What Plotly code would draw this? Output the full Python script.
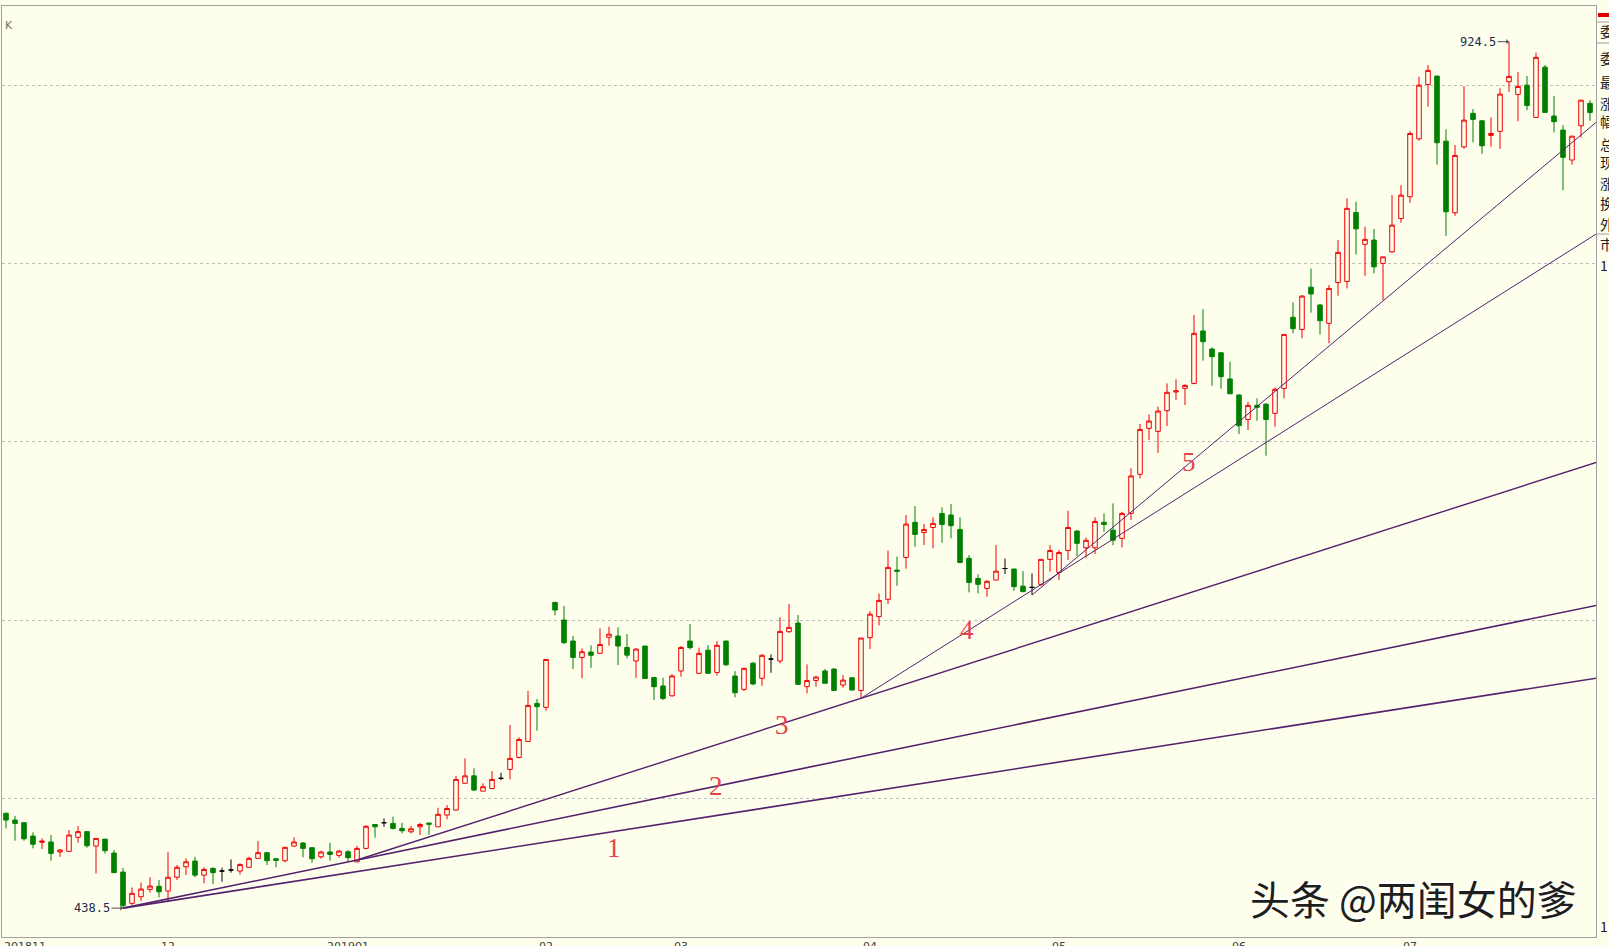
import plotly.graph_objects as go

# ---------------- data ----------------
month_labels = ["201811", "12", "201901", "02", "03", "04", "05", "06", "07"]
month_index = [0, 18, 38, 60, 75, 96, 117, 137, 156]

opens = [491.7, 487.9, 486.4, 478.9, 475.4, 475.6, 470.0, 470.3, 478.2, 481.4,
         473.3, 477.2, 469.4, 458.7, 441.2, 444.9, 449.0, 450.7, 448.1, 455.8,
         461.7, 464.9, 457.0, 460.8, 459.3, 459.9, 459.3, 461.4, 466.4, 469.6,
         466.2, 465.1, 473.3, 475.0, 472.4, 467.3, 470.0, 468.1, 470.1, 464.5,
         472.0, 485.4, 486.4, 486.0, 483.2, 481.3, 484.1, 486.2, 484.1, 490.7,
         493.5, 508.5, 512.7, 504.1, 505.6, 511.3, 516.3, 523.0, 532.0, 553.3,
         551.1, 610.0, 600.1, 588.3, 579.1, 582.1, 581.4, 590.4, 591.1, 584.7,
         577.1, 585.5, 567.9, 563.1, 557.6, 571.5, 588.3, 570.2, 583.2, 570.7,
         588.3, 568.7, 561.2, 575.9, 567.4, 578.2, 577.1, 593.5, 598.4, 562.7,
         566.2, 571.5, 572.6, 563.6, 567.7, 560.6, 590.2, 602.0, 611.7, 628.1,
         635.2, 654.9, 649.2, 652.0, 659.9, 659.0, 650.9, 634.7, 623.4, 617.8,
         622.5, 629.0, 628.7, 619.1, 618.4, 620.1, 634.1, 626.8, 639.1, 650.0,
         640.6, 640.6, 654.9, 650.5, 645.9, 659.9, 681.8, 707.6, 705.9, 717.5,
         728.0, 730.0, 732.8, 762.2, 752.1, 750.0, 735.3, 726.3, 712.6, 720.5,
         721.2, 716.0, 730.0, 769.9, 763.1, 786.8, 776.8, 766.5, 789.4, 790.0,
         828.7, 810.8, 813.2, 800.1, 806.6, 825.3, 837.5, 870.0, 900.5, 905.2,
         868.7, 828.5, 865.5, 884.3, 880.1, 871.9, 874.2, 902.0, 894.9, 900.1,
         882.0, 910.2, 882.8, 874.9, 858.1, 877.3, 889.9]
highs = [492.0, 490.2, 486.8, 481.0, 477.6, 479.5, 471.6, 482.3, 484.5, 481.7,
         477.6, 477.2, 471.1, 461.0, 450.1, 452.9, 455.8, 454.2, 470.1, 462.7,
         466.4, 467.3, 461.4, 461.4, 461.2, 465.8, 463.6, 467.3, 476.1, 469.6,
         466.2, 472.9, 478.2, 475.6, 472.4, 470.7, 475.2, 471.1, 471.1, 473.5,
         485.0, 485.4, 488.8, 489.8, 486.4, 484.5, 486.4, 486.4, 494.8, 496.3,
         512.7, 522.5, 516.9, 508.5, 515.4, 514.4, 541.2, 534.3, 560.3, 555.8,
         578.0, 610.0, 607.9, 591.1, 584.2, 585.9, 595.4, 596.3, 596.0, 592.2,
         584.2, 585.5, 567.9, 567.7, 569.8, 585.5, 597.8, 584.6, 586.0, 588.3,
         588.5, 571.5, 573.3, 576.5, 581.0, 580.8, 601.6, 609.0, 602.9, 575.2,
         568.7, 572.6, 573.0, 569.2, 568.1, 590.0, 605.1, 615.0, 639.0, 635.6,
         659.0, 664.0, 653.9, 657.7, 663.3, 665.1, 657.7, 636.5, 625.7, 622.5,
         642.1, 634.6, 628.7, 627.5, 626.2, 634.1, 642.1, 639.3, 661.4, 650.5,
         646.4, 657.7, 659.9, 665.5, 660.8, 685.2, 710.0, 715.4, 719.8, 732.8,
         735.1, 732.3, 771.2, 774.5, 753.0, 750.4, 745.0, 726.7, 722.5, 724.4,
         721.6, 730.6, 760.3, 778.3, 782.4, 797.3, 777.3, 788.0, 813.2, 836.6,
         834.7, 820.7, 819.4, 803.8, 838.4, 844.0, 874.3, 904.8, 911.4, 905.2,
         875.3, 866.5, 899.6, 886.7, 880.5, 882.0, 898.3, 924.5, 907.4, 905.2,
         918.3, 911.4, 894.0, 877.7, 871.5, 891.7, 891.7]
lows = [483.2, 476.3, 476.3, 472.0, 471.6, 465.1, 467.3, 470.3, 475.2, 472.4,
        458.0, 469.2, 458.4, 438.5, 440.2, 442.6, 447.2, 444.5, 442.1, 454.2,
        457.0, 455.8, 452.4, 452.0, 453.3, 458.4, 457.4, 461.4, 466.4, 462.7,
        461.4, 464.2, 472.9, 467.0, 464.0, 466.2, 465.1, 466.8, 464.9, 464.2,
        471.5, 478.0, 484.1, 482.6, 480.4, 480.4, 479.5, 479.5, 484.1, 488.3,
        493.1, 508.5, 504.3, 504.1, 505.6, 510.3, 510.7, 522.5, 532.0, 538.0,
        549.2, 602.7, 586.6, 572.6, 567.4, 573.3, 581.4, 585.7, 574.8, 578.6,
        567.7, 567.3, 555.2, 555.2, 557.1, 568.3, 583.6, 570.2, 570.2, 568.9,
        574.3, 556.7, 560.2, 563.6, 563.2, 570.5, 575.8, 593.0, 564.0, 558.9,
        562.7, 564.6, 560.6, 562.1, 560.8, 556.1, 583.8, 597.1, 609.0, 619.3,
        628.9, 641.2, 642.1, 640.3, 643.4, 645.9, 631.9, 615.6, 615.0, 613.1,
        622.5, 625.9, 616.5, 616.0, 614.1, 619.1, 627.2, 622.5, 633.7, 636.0,
        635.2, 637.1, 649.6, 642.1, 640.8, 656.2, 679.5, 701.1, 693.9, 708.9,
        723.5, 720.7, 732.3, 745.6, 731.5, 729.8, 727.0, 704.4, 706.7, 711.9,
        692.3, 708.5, 724.4, 760.9, 758.1, 772.5, 760.3, 755.3, 782.0, 786.1,
        805.1, 793.2, 794.5, 779.5, 806.1, 822.9, 834.1, 868.9, 888.0, 855.5,
        815.6, 826.8, 864.4, 868.0, 861.6, 865.5, 864.4, 896.4, 879.8, 886.1,
        882.0, 884.8, 873.6, 841.2, 855.5, 870.8, 880.1]
closes = [487.9, 486.0, 477.4, 474.3, 476.1, 469.2, 471.1, 479.5, 481.4, 473.5,
          477.6, 470.7, 458.4, 440.0, 446.8, 449.2, 450.9, 447.7, 455.8, 461.4,
          464.5, 457.0, 460.2, 458.4, 459.3, 459.9, 463.0, 466.4, 469.6, 465.1,
          465.3, 472.6, 475.6, 472.0, 466.2, 470.0, 468.6, 470.5, 466.8, 472.0,
          484.4, 484.1, 486.4, 483.2, 481.9, 483.0, 485.4, 485.6, 491.1, 494.4,
          510.7, 512.7, 504.7, 506.6, 510.7, 511.3, 522.5, 533.1, 552.2, 551.5,
          578.0, 605.7, 587.4, 579.1, 582.3, 580.3, 586.4, 592.2, 585.5, 580.4,
          583.8, 567.3, 562.7, 556.1, 568.7, 584.7, 584.6, 581.4, 570.2, 585.9,
          575.0, 559.3, 573.0, 564.2, 580.3, 578.2, 593.7, 596.0, 564.0, 566.2,
          568.1, 564.6, 560.6, 566.4, 560.8, 590.0, 603.4, 611.1, 629.6, 627.4,
          653.9, 648.1, 650.9, 654.3, 653.7, 653.0, 632.4, 621.2, 620.1, 621.8,
          627.5, 629.0, 618.8, 616.0, 618.4, 634.1, 639.1, 638.0, 652.0, 643.1,
          644.8, 655.4, 653.7, 644.9, 659.9, 680.9, 707.0, 711.7, 717.3, 727.8,
          728.7, 731.7, 760.9, 756.2, 747.8, 736.6, 727.0, 709.1, 720.5, 719.4,
          712.6, 729.5, 760.3, 763.5, 781.8, 783.0, 768.0, 786.1, 806.3, 831.0,
          819.5, 813.6, 798.2, 803.8, 821.6, 838.4, 873.0, 900.1, 908.4, 867.8,
          829.1, 860.7, 880.5, 880.9, 866.1, 873.0, 895.1, 905.0, 899.4, 888.7,
          915.7, 884.8, 879.6, 859.6, 871.5, 891.7, 884.8]

# fan lines: start point (candle index, price) and value at the right edge
fan_start_x = [13, 13, 39, 95, 114]
fan_start_y = [438.5, 438.5, 465.5, 556.2, 614.1]
fan_end_x = [177, 177, 177, 177, 177]
fan_end_y = [567.7, 608.6, 689.0, 817.6, 880.6]
fan_widths = [1.6, 1.6, 1.4, 1.0, 1.0]

fan_labels = ["1", "2", "3", "4", "5"]
fan_label_x = [67.5, 78.9, 86.2, 106.8, 131.4]
fan_label_y = [472.5, 507.0, 541.0, 594.5, 688.9]

extreme_x = [167, 13]
extreme_y = [924.5, 438.5]
extreme_text = ["924.5", "438.5"]

price_grid = [500, 600, 700, 800, 900]

panel_chars = ["委", "委", "最", "涨", "幅", "总", "现", "涨", "换", "外", "市", "1", "1"]
panel_rows_px = [31, 58, 82, 103, 121, 144, 162, 183, 203, 224, 244, 265, 926]

watermark = "头条 @两闺女的爹"

# ---------------- styling ----------------
BG = "#fefeec"
RED = "#f00000"
GREEN = "#008000"
BLACK = "#000000"
FAN = "#55226e"
BORDER = "#a0a0a0"

W, H = 1609, 946
PX_L, PX_R, PX_T, PX_B = 2, 1596, 6, 937


def pxx(px):
    return (px - PX_L) / (PX_R - PX_L)


def pxy(py):
    return (PX_B - py) / (PX_B - PX_T)


idx = list(range(len(opens)))
groups = [
    ([i for i in idx if closes[i] > opens[i]], RED, BG),
    ([i for i in idx if closes[i] < opens[i]], GREEN, GREEN),
    ([i for i in idx if closes[i] == opens[i]], BLACK, BLACK),
]

fig = go.Figure()
for sel, col, fill in groups:
    fig.add_trace(go.Candlestick(
        x=sel,
        open=[opens[i] for i in sel],
        high=[highs[i] for i in sel],
        low=[lows[i] for i in sel],
        close=[closes[i] for i in sel],
        increasing=dict(line=dict(color=col, width=1), fillcolor=fill),
        decreasing=dict(line=dict(color=col, width=1), fillcolor=fill),
        whiskerwidth=0,
        showlegend=False,
        hoverinfo="skip",
    ))

for k in range(len(fan_start_x)):
    fig.add_trace(go.Scatter(
        x=[fan_start_x[k], fan_end_x[k]],
        y=[fan_start_y[k], fan_end_y[k]],
        mode="lines",
        line=dict(color=FAN, width=fan_widths[k]),
        showlegend=False,
        hoverinfo="skip",
    ))

annotations = []
for k in range(len(fan_labels)):
    annotations.append(dict(
        x=fan_label_x[k], y=fan_label_y[k], xref="x", yref="y",
        text=fan_labels[k], showarrow=False,
        font=dict(family="Liberation Serif", size=27, color="#e5434c"),
    ))

for k in range(len(extreme_x)):
    annotations.append(dict(
        x=extreme_x[k], y=extreme_y[k], xref="x", yref="y",
        text=extreme_text[k], showarrow=True,
        ax=-31, ay=0, arrowhead=1, arrowsize=0.9, arrowwidth=1,
        arrowcolor="#505050", standoff=0,
        font=dict(family="DejaVu Sans Mono", size=12, color="#1c2c4c"),
    ))

for lab, i in zip(month_labels, month_index):
    first = (i == month_index[0])
    annotations.append(dict(
        x=pxx(2) if first else i, xref="paper" if first else "x",
        y=0, yref="paper", yanchor="top", yshift=-1,
        xanchor="left" if first else "center",
        text=lab, showarrow=False,
        font=dict(family="DejaVu Sans", size=11, color="#404040"),
    ))

annotations.append(dict(
    x=pxx(3), y=pxy(17), xref="paper", yref="paper", xanchor="left",
    text="K", showarrow=False,
    font=dict(family="DejaVu Sans", size=11, color="#707070"),
))

for ch, ry in zip(panel_chars, panel_rows_px):
    annotations.append(dict(
        x=pxx(1599), y=pxy(ry), xref="paper", yref="paper",
        xanchor="left", yanchor="middle", borderpad=0,
        text=ch, showarrow=False,
        font=dict(family="Noto Sans CJK SC", size=14, color="#202020"),
    ))

# watermark with emboss-like highlight
wm_x, wm_y = pxx(1413), pxy(898)
for dx, dy, col in [(-2, 2, "#ffffff"), (0, 0, "#1e1e1e")]:
    annotations.append(dict(
        x=wm_x, y=wm_y, xref="paper", yref="paper", xshift=dx, yshift=dy,
        xanchor="center", yanchor="middle",
        text=watermark, showarrow=False,
        font=dict(family="Noto Sans CJK SC", size=40, color=col),
    ))

shapes = [
    dict(type="rect", xref="paper", yref="paper",
         x0=pxx(1598), x1=pxx(1610), y0=pxy(17), y1=pxy(13),
         fillcolor="#e00000", line=dict(width=0)),
]
for ly in [22, 43, 234]:
    shapes.append(dict(type="line", xref="paper", yref="paper",
                       x0=pxx(1597), x1=pxx(1610), y0=pxy(ly), y1=pxy(ly),
                       line=dict(color=BORDER, width=1)))

fig.update_layout(
    width=W, height=H,
    margin=dict(l=PX_L, r=W - PX_R, t=PX_T, b=H - PX_B, pad=0),
    paper_bgcolor=BG, plot_bgcolor=BG,
    showlegend=False,
    annotations=annotations,
    shapes=shapes,
    xaxis=dict(
        range=[(PX_L - 6) / 9, (PX_R - 6) / 9],
        rangeslider=dict(visible=False),
        showgrid=False, zeroline=False, showticklabels=False, ticks="",
        showline=True, linecolor=BORDER, linewidth=1, mirror=True,
        fixedrange=True,
    ),
    yaxis=dict(
        range=[422.3, 944.5],
        tickvals=price_grid, showticklabels=False, ticks="",
        showgrid=True, gridcolor="#bdbdbd", gridwidth=1, griddash="dot",
        zeroline=False,
        showline=True, linecolor=BORDER, linewidth=1, mirror=True,
        fixedrange=True,
    ),
    boxgap=0.28,
)

fig.write_html("out.html", config={"displayModeBar": False},
               post_script="document.body.style.margin='0';document.body.style.overflow='hidden';")
